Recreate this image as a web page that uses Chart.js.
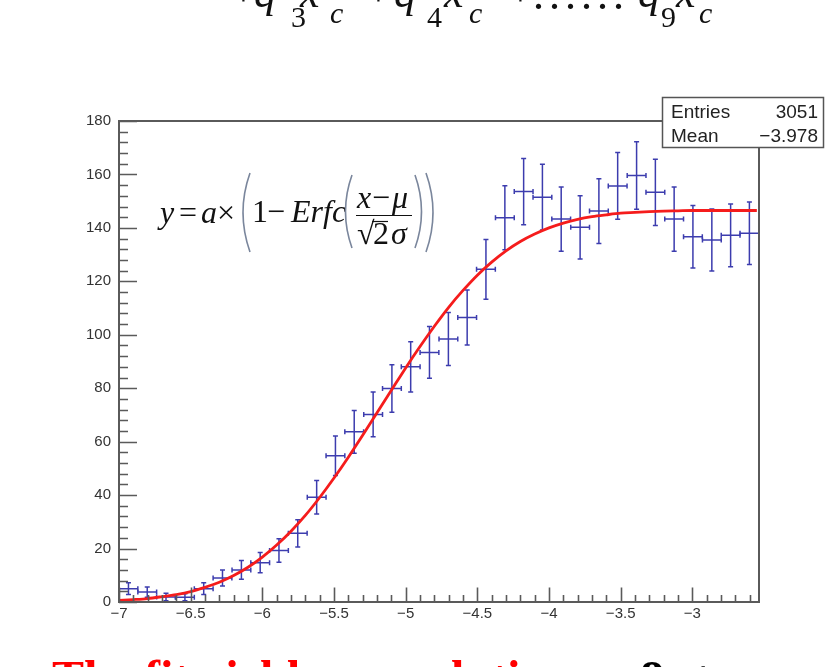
<!DOCTYPE html>
<html>
<head>
<meta charset="utf-8">
<script src="https://cdn.jsdelivr.net/npm/chart.js@4/dist/chart.umd.min.js"></script>
<style>
  html, body { margin: 0; padding: 0; background: #fff; }
  #wrap { position: relative; width: 827px; height: 667px; overflow: hidden; }
  #c { position: absolute; left: 0; top: 0; }
  #ov { position: absolute; left: 0; top: 0; }
</style>
</head>
<body>
<div id="wrap">
  <canvas id="c" width="827" height="667"></canvas>
  <svg id="ov" width="827" height="667" xmlns="http://www.w3.org/2000/svg">
    <!-- cropped header formula -->
    <g font-family="Liberation Serif, 'Times New Roman', serif" fill="#111">
      <text x="231" y="6" font-size="44">+</text>
      <text x="254" y="7" font-size="44" font-style="italic">q</text>
      <text x="291" y="27" font-size="30">3</text>
      <text x="300" y="7" font-size="44" font-style="italic">x</text>
      <text x="330" y="23" font-size="30" font-style="italic">c</text>
      <text x="366" y="6" font-size="44">+</text>
      <text x="394" y="7" font-size="44" font-style="italic">q</text>
      <text x="427" y="27" font-size="30">4</text>
      <text x="444" y="7" font-size="44" font-style="italic">x</text>
      <text x="469" y="23" font-size="30" font-style="italic">c</text>
      <text x="508" y="6" font-size="44">+</text>
      <text x="533" y="9" font-size="44" letter-spacing="5">......</text>
      <text x="638" y="7" font-size="44" font-style="italic">q</text>
      <text x="661" y="27" font-size="30">9</text>
      <text x="676" y="7" font-size="44" font-style="italic">x</text>
      <text x="699" y="23" font-size="30" font-style="italic">c</text>
    </g>
    <!-- fit formula -->
    <g font-family="Liberation Serif, 'Times New Roman', serif" font-size="32" fill="#111">
      <text x="160" y="223" font-style="italic">y</text>
      <text x="179" y="223">=</text>
      <text x="201" y="223" font-style="italic">a</text>
      <text x="217" y="223">×</text>
      <path d="M250 173 Q236 212.5 250 252" stroke="#7a869c" stroke-width="1.6" fill="none"/>
      <text x="252" y="222">1</text>
      <text x="267" y="222">−</text>
      <text x="291" y="222" font-style="italic">Erfc</text>
      <path d="M352 175 Q339 211.5 352 248" stroke="#7a869c" stroke-width="1.6" fill="none"/>
      <text x="357" y="208" font-style="italic">x</text>
      <text x="372" y="208">−</text>
      <text x="392" y="208" font-style="italic">μ</text>
      <line x1="356" y1="215.5" x2="412" y2="215.5" stroke="#111" stroke-width="1.2"/>
      <text x="357" y="244">√</text>
      <line x1="372" y1="221.5" x2="388" y2="221.5" stroke="#111" stroke-width="1.2"/>
      <text x="373" y="244">2</text>
      <text x="391" y="244" font-style="italic">σ</text>
      <path d="M415 175 Q428 211.5 415 248" stroke="#7a869c" stroke-width="1.6" fill="none"/>
      <path d="M426 173 Q440 212.5 426 252" stroke="#7a869c" stroke-width="1.6" fill="none"/>
    </g>
    <!-- stats box -->
    <rect x="662.5" y="97.5" width="161" height="50" fill="#fff" stroke="#555" stroke-width="1.5"/>
    <g font-family="Liberation Sans, Arial, sans-serif" font-size="19" fill="#222">
      <text x="671" y="118">Entries</text>
      <text x="818" y="118" text-anchor="end">3051</text>
      <text x="671" y="142">Mean</text>
      <text x="818" y="142" text-anchor="end">−3.978</text>
    </g>
    <!-- cropped caption -->
    <g font-family="Liberation Serif, 'Times New Roman', serif" font-size="48" font-weight="bold">
      <text x="52" y="694" fill="#ff0000">The fit yields a resolution</text>
      <text x="608" y="694" fill="#000">σ</text>
      <text x="640" y="694" fill="#000">8</text>
      <text x="690" y="694" fill="#000">±</text>
      <text x="740" y="694" fill="#000">σ</text>
    </g>
  </svg>
</div>
<script>
// ---- data ----
const binCenters = [-6.934, -6.803, -6.672, -6.540, -6.409, -6.278, -6.146, -6.015, -5.884, -5.753,
                    -5.621, -5.490, -5.359, -5.227, -5.096, -4.965, -4.834, -4.702, -4.571, -4.440,
                    -4.308, -4.177, -4.046, -3.915, -3.783, -3.652, -3.521, -3.389, -3.258, -3.127,
                    -2.996, -2.864, -2.733, -2.602];
const counts = [5.0, 3.7, 1.9, 1.8, 5.0, 9.0, 12.0, 14.7, 19.3, 25.7,
                39.2, 54.7, 63.7, 70.2, 79.9, 88.0, 93.4, 98.4, 106.5, 124.5,
                143.8, 153.6, 151.5, 143.3, 140.2, 146.3, 155.7, 159.6, 153.3, 143.3,
                136.7, 135.5, 137.2, 138.0];
const countErrors = [2.2, 1.9, 1.4, 1.3, 2.2, 3.0, 3.5, 3.8, 4.4, 5.1,
                     6.3, 7.4, 8.0, 8.4, 8.9, 9.4, 9.7, 9.9, 10.3, 11.2,
                     12.0, 12.4, 12.3, 12.0, 11.8, 12.1, 12.5, 12.6, 12.4, 12.0,
                     11.7, 11.6, 11.7, 11.7];
const fitX = [-7.0, -6.9, -6.8, -6.7, -6.6, -6.5, -6.4, -6.3, -6.2, -6.1,
              -6.0, -5.9, -5.8, -5.7, -5.6, -5.5, -5.4, -5.3, -5.2, -5.1,
              -5.0, -4.9, -4.8, -4.7, -4.6, -4.5, -4.4, -4.3, -4.2, -4.1,
              -4.0, -3.9, -3.8, -3.7, -3.6, -3.5, -3.4, -3.3, -3.2, -3.1,
              -3.0, -2.9, -2.8, -2.7, -2.6, -2.55];
const fitY = [0.6, 0.9, 1.3, 2.0, 2.8, 3.9, 5.5, 7.4, 9.9, 13.0,
              16.8, 21.3, 26.5, 32.4, 39.1, 46.4, 54.2, 62.4, 70.8, 79.2,
              87.6, 95.6, 103.2, 110.3, 116.6, 122.3, 127.2, 131.4, 134.9, 137.7,
              140.0, 141.8, 143.2, 144.2, 144.9, 145.5, 145.8, 146.1, 146.3, 146.4,
              146.5, 146.5, 146.5, 146.5, 146.5, 146.5];
const xTickValues = [-7, -6.5, -6, -5.5, -5, -4.5, -4, -3.5, -3];
const yTickValues = [0, 20, 40, 60, 80, 100, 120, 140, 160, 180];
const xRange = [-7, -2.535];
const yRange = [0, 180];

function fmt(v) {
  return (v < 0 ? '\u2212' : '') + String(Math.abs(v));
}

const rootStyle = {
  id: 'rootStyle',
  beforeDatasetsDraw(chart) {
    const ctx = chart.ctx, xs = chart.scales.x, ys = chart.scales.y, a = chart.chartArea;
    ctx.save();
    ctx.beginPath();
    ctx.rect(a.left, a.top - 1, a.right - a.left, a.bottom - a.top + 1);
    ctx.clip();
    ctx.strokeStyle = '#3c3cae';
    ctx.lineWidth = 1.5;
    const half = (binCenters[1] - binCenters[0]) / 2;
    const cap = 2.5;
    for (let i = 0; i < binCenters.length; i++) {
      const c = binCenters[i], v = counts[i], e = countErrors[i];
      const px = xs.getPixelForValue(c);
      const pl = xs.getPixelForValue(c - half);
      const pr = xs.getPixelForValue(c + half);
      const py = ys.getPixelForValue(v);
      const pt = ys.getPixelForValue(v + e);
      const pb = ys.getPixelForValue(v - e);
      ctx.beginPath();
      ctx.moveTo(pl, py); ctx.lineTo(pr, py);
      ctx.moveTo(px, pt); ctx.lineTo(px, pb);
      ctx.moveTo(px - cap, pt); ctx.lineTo(px + cap, pt);
      ctx.moveTo(px - cap, pb); ctx.lineTo(px + cap, pb);
      ctx.moveTo(pl, py - cap); ctx.lineTo(pl, py + cap);
      ctx.moveTo(pr, py - cap); ctx.lineTo(pr, py + cap);
      ctx.stroke();
    }
    ctx.restore();
  },
  afterDatasetsDraw(chart) {
    const ctx = chart.ctx, xs = chart.scales.x, ys = chart.scales.y, a = chart.chartArea;
    ctx.save();
    ctx.strokeStyle = '#5a5a5a';
    ctx.lineWidth = 1.6;
    ctx.beginPath();
    for (let k = 0; ; k++) {
      const v = xRange[0] + k * 0.1;
      if (v > xRange[1] + 1e-9) break;
      const p = Math.round(xs.getPixelForValue(v)) + 0.5;
      const len = (k % 5 === 0) ? 14.5 : 7;
      ctx.moveTo(p, a.bottom); ctx.lineTo(p, a.bottom - len);
    }
    for (let k = 0; ; k++) {
      const v = yRange[0] + k * 4;
      if (v > yRange[1] + 1e-9) break;
      const p = Math.round(ys.getPixelForValue(v)) + 0.5;
      const len = (k % 5 === 0) ? 18 : 9;
      ctx.moveTo(a.left, p); ctx.lineTo(a.left + len, p);
    }
    ctx.stroke();
    ctx.lineWidth = 2;
    ctx.strokeRect(a.left, a.top, a.right - a.left, a.bottom - a.top);
    ctx.restore();
  }
};

new Chart(document.getElementById('c'), {
  type: 'scatter',
  data: {
    datasets: [
      {
        label: 'fit',
        data: fitX.map((x, i) => ({ x: x, y: fitY[i] })),
        showLine: true,
        borderColor: '#f51c1c',
        borderWidth: 2.8,
        pointRadius: 0,
        cubicInterpolationMode: 'monotone',
        order: 0
      },
      {
        label: 'data',
        data: binCenters.map((x, i) => ({ x: x, y: counts[i] })),
        showLine: false,
        pointRadius: 0,
        order: 1
      }
    ]
  },
  options: {
    responsive: false,
    animation: false,
    devicePixelRatio: 1,
    layout: { padding: { left: 79, right: 68, top: 121, bottom: 35 } },
    plugins: { legend: { display: false }, tooltip: { enabled: false } },
    scales: {
      x: {
        type: 'linear',
        min: xRange[0], max: xRange[1],
        grid: { display: false, drawTicks: false },
        border: { display: false },
        afterBuildTicks: s => { s.ticks = xTickValues.map(v => ({ value: v })); },
        afterFit: s => { s.height = 30; },
        ticks: {
          padding: 3, autoSkip: false, maxRotation: 0, minRotation: 0,
          color: '#333',
          font: { family: 'Liberation Sans, Arial, sans-serif', size: 15 },
          callback: v => fmt(v)
        }
      },
      y: {
        type: 'linear',
        min: yRange[0], max: yRange[1],
        grid: { display: false, drawTicks: false },
        border: { display: false },
        afterBuildTicks: s => { s.ticks = yTickValues.map(v => ({ value: v })); },
        afterFit: s => { s.width = 40; },
        ticks: {
          padding: 8,
          color: '#333',
          font: { family: 'Liberation Sans, Arial, sans-serif', size: 15 },
          callback: v => fmt(v)
        }
      }
    }
  },
  plugins: [rootStyle]
});
</script>
</body>
</html>
